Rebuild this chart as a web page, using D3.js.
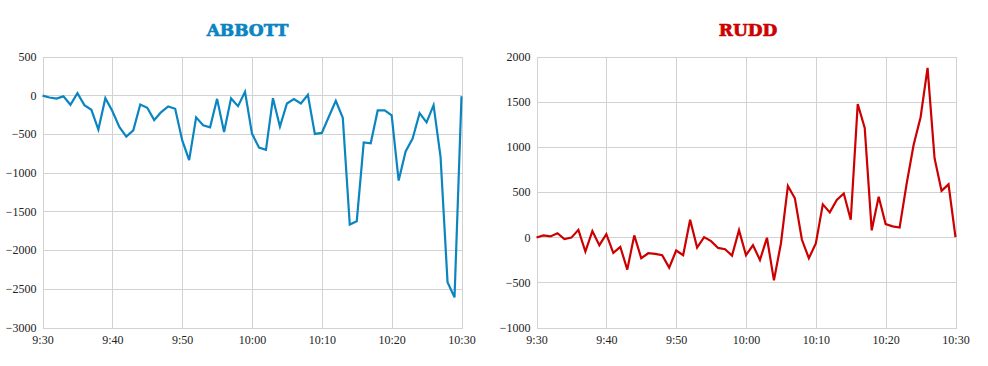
<!DOCTYPE html>
<html>
<head>
<meta charset="utf-8">
<script src="https://cdn.jsdelivr.net/npm/d3@7"></script>
<style>
  html, body { margin: 0; padding: 0; background: #fff; }
  svg { display: block; }
  .tick text { font-family: "Liberation Serif", "Times New Roman", serif; font-size: 12px; }
</style>
</head>
<body>
<svg id="chart" width="988" height="366"></svg>
<script>
// ---- data ----
const startTime = "09:30";
const endTime = "10:30";
const xTickLabels = ["9:30", "9:40", "9:50", "10:00", "10:10", "10:20", "10:30"];

const abbottTitle = "ABBOTT";
const abbottValues = [
  -5, -30, -43, -15, -124, 26, -128, -188, -444, -38,
  -205, -410, -534, -453, -120, -162, -321, -218, -145, -175,
  -581, -838, -286, -389, -415, -47, -474, -41, -141, 43,
  -496, -675, -705, -38, -406, -107, -51, -107, 4, -500,
  -487, -278, -73, -291, -1670, -1628, -611, -620, -197, -197,
  -261, -1103, -726, -560, -231, -350, -128, -795, -2414, -2611,
  -13
];
const abbottYTicks = [500, 0, -500, -1000, -1500, -2000, -2500, -3000];

const ruddTitle = "RUDD";
const ruddValues = [
  -4, 19, 8, 44, -22, -5, 81, -159, 67, -89,
  33, -174, -107, -359, 20, -233, -178, -185, -200, -337,
  -148, -200, 193, -115, 0, -44, -119, -133, -204, 78,
  -200, -89, -252, -7, -478, -70, 567, 430, -26, -233,
  -70, 363, 274, 411, 483, 193, 1474, 1210, 76, 448,
  144, 120, 107, 590, 1020, 1328, 1874, 874, 513, 585,
  0
];
const ruddYTicks = [2000, 1500, 1000, 500, 0, -500, -1000];

// ---- helpers ----
const parse = d3.timeParse("%H:%M");
const t0 = parse(startTime), t1 = parse(endTime);
const times = d3.timeMinute.range(t0, d3.timeMinute.offset(t1, 1));
const tickTimes = xTickLabels.map(s => parse(s.padStart(5, "0")));

const svg = d3.select("#chart");
const gridColor = "#d2d2d2";

function drawChart(cfg) {
  const g = svg.append("g");
  const x = d3.scaleTime().domain([t0, t1]).range([cfg.left, cfg.right]);
  const y = d3.scaleLinear()
    .domain([d3.min(cfg.yTicks), d3.max(cfg.yTicks)])
    .range([cfg.bottom, cfg.top]);

  // title
  g.append("text")
    .attr("x", cfg.titleX)
    .attr("y", 36)
    .attr("text-anchor", "middle")
    .style("font-family", "'DejaVu Serif', serif")
    .style("font-weight", "bold")
    .style("font-size", "17px")
    .attr("fill", cfg.color)
    .attr("stroke", cfg.color)
    .attr("stroke-width", 0.7)
    .text(cfg.title);

  // horizontal grid + y labels
  const yAxis = d3.axisLeft(y).tickValues(cfg.yTicks)
    .tickSize(-(cfg.right - cfg.left)).tickPadding(6).tickFormat(d3.format("d"));
  const ya = g.append("g").attr("transform", `translate(${cfg.left},0)`).call(yAxis);
  ya.attr("font-family", null).attr("font-size", null);
  ya.select(".domain").attr("stroke", gridColor);
  ya.selectAll(".tick line").attr("stroke", gridColor).attr("shape-rendering", "crispEdges");
  ya.selectAll(".tick text").attr("fill", "#222");

  // vertical grid + x labels
  const xAxis = d3.axisBottom(x).tickValues(tickTimes)
    .tickSize(-(cfg.bottom - cfg.top)).tickPadding(8)
    .tickFormat((d, i) => xTickLabels[i]);
  const xa = g.append("g").attr("transform", `translate(0,${cfg.bottom})`).call(xAxis);
  xa.attr("font-family", null).attr("font-size", null);
  xa.select(".domain").attr("stroke", gridColor);
  xa.selectAll(".tick line").attr("stroke", gridColor).attr("shape-rendering", "crispEdges");
  xa.selectAll(".tick text").attr("fill", "#222");
  svg.selectAll(".domain").attr("shape-rendering", "crispEdges");

  // line
  const line = d3.line().x((d, i) => x(times[i])).y(d => y(d));
  g.append("path")
    .datum(cfg.values)
    .attr("fill", "none")
    .attr("stroke", cfg.color)
    .attr("stroke-width", 2.2)
    .attr("stroke-linejoin", "miter")
    .attr("d", line);
}

drawChart({
  title: abbottTitle, values: abbottValues, yTicks: abbottYTicks,
  color: "#0b85c2", left: 42.5, right: 461.5, top: 56.5, bottom: 327.5, titleX: 247.5
});
drawChart({
  title: ruddTitle, values: ruddValues, yTicks: ruddYTicks,
  color: "#cc0000", left: 536.5, right: 955.5, top: 56.5, bottom: 327.5, titleX: 748
});
</script>
</body>
</html>
